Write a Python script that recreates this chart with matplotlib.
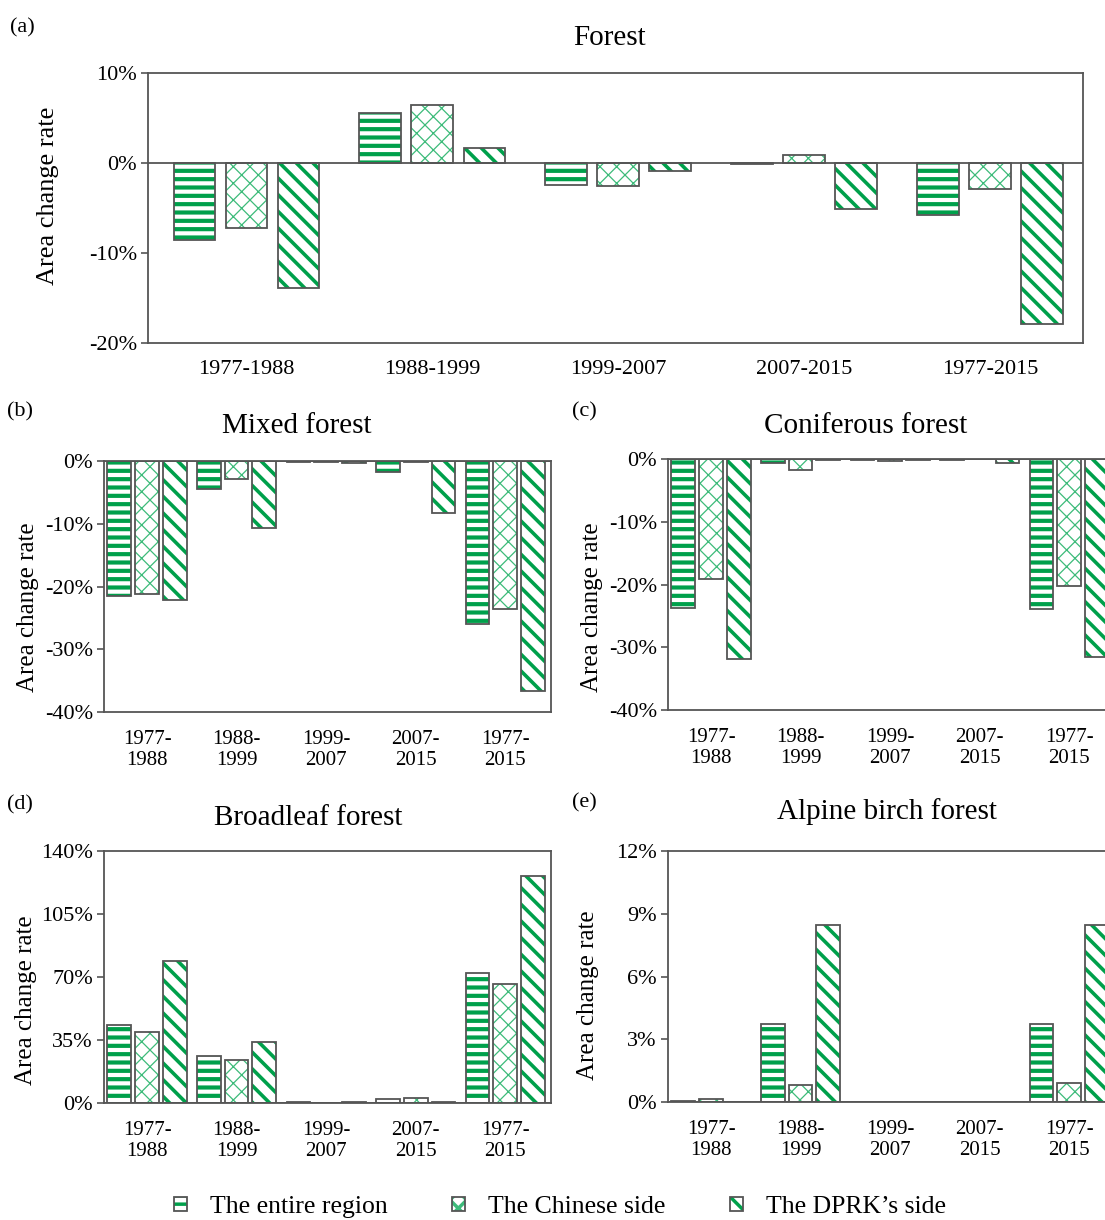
import numpy as np
import matplotlib
matplotlib.use('Agg')
import matplotlib.pyplot as plt
from matplotlib.patches import Patch
from matplotlib.legend_handler import HandlerTuple

W, H = 1105, 1220
plt.rcParams['font.family'] = ['Liberation Serif', 'DejaVu Serif']
plt.rcParams['hatch.linewidth'] = 2.5

periods = ['1977-1988', '1988-1999', '1999-2007', '2007-2015', '1977-2015']
periods_2line = [p.replace('-', '-\n') for p in periods]
series = ['The entire region', 'The Chinese side', 'The DPRK\u2019s side']

# area change rate, %
forest_entire = [-8.6, 5.6, -2.4, -0.15, -5.8]
forest_chinese = [-7.2, 6.4, -2.6, 0.9, -2.9]
forest_dprk = [-13.9, 1.7, -0.9, -5.1, -17.9]

mixed_entire = [-21.5, -4.5, -0.1, -1.8, -26.0]
mixed_chinese = [-21.2, -2.9, -0.1, -0.1, -23.6]
mixed_dprk = [-22.2, -10.7, -0.3, -8.3, -36.6]

conif_entire = [-23.7, -0.6, -0.1, -0.1, -23.9]
conif_chinese = [-19.2, -1.75, -0.3, 0.1, -20.3]
conif_dprk = [-31.8, -0.1, -0.1, -0.6, -31.6]

broad_entire = [43.1, 26.3, 0.5, 2.4, 72.2]
broad_chinese = [39.2, 23.7, 0.1, 2.6, 66.3]
broad_dprk = [78.8, 34.0, 0.5, 0.5, 126.0]

birch_entire = [0.05, 3.71, 0, 0, 3.71]
birch_chinese = [0.13, 0.81, 0, 0, 0.89]
birch_dprk = [0, 8.48, 0, 0, 8.48]

forest_ticks = [-20, -10, 0, 10]
mixed_ticks = [-40, -30, -20, -10, 0]
broad_ticks = [0, 35, 70, 105, 140]
birch_ticks = [0, 3, 6, 9, 12]

GREEN = '#00a04b'
LIGHT = '#3dbb7a'
EDGE = '#555555'
styles = [('--', GREEN, 3.0), ('xx', LIGHT, 0.9), ('\\\\', GREEN, 2.6)]

fig = plt.figure(figsize=(W / 100, H / 100), dpi=100)


def px_axes(left, top, right, bottom):
    return fig.add_axes([left / W, 1 - bottom / H, (right - left) / W, (bottom - top) / H])


def draw_panel(ax, values, width, step, yticks, xlabels, xfs, xlim, xpad):
    x = np.arange(len(periods))
    for k, vals in enumerate(values):
        hatch, color, hlw = styles[k]
        pos = x + (k - 1) * step
        with plt.rc_context({'hatch.linewidth': hlw}):
            bars = ax.bar(pos, vals, width, color='white', edgecolor=color,
                          hatch=hatch, linewidth=0)
        for b in bars:
            if hasattr(b, 'set_hatch_linewidth'):
                b.set_hatch_linewidth(hlw)
        ax.bar(pos, vals, width, fill=False, edgecolor=EDGE, linewidth=1.3)
    ax.axhline(0, color=EDGE, lw=1.3)
    ax.set_ylim(yticks[0], yticks[-1])
    ax.set_xlim(*xlim)
    ax.set_yticks(yticks)
    ax.set_yticklabels([f'{t}%' for t in yticks])
    ax.set_xticks(x)
    ax.set_xticklabels(xlabels, fontsize=xfs, linespacing=1.15)
    ax.tick_params(axis='y', direction='out', length=5, width=1.2, color=EDGE,
                   labelsize=16, pad=3)
    ax.tick_params(axis='x', length=0, pad=xpad)
    for s in ax.spines.values():
        s.set_color(EDGE)
        s.set_linewidth(1.3)


def ftext(x, y, s, **kw):
    fig.text(x / W, 1 - y / H, s, ha='center', va='center', **kw)


# (a) Forest
ax_a = px_axes(148, 73, 1083, 343)
draw_panel(ax_a, [forest_entire, forest_chinese, forest_dprk], 0.225, 0.28,
           forest_ticks, periods, 16, (-0.53, 4.5), 12)
ftext(610, 38, 'Forest', fontsize=21)
ftext(48, 196, 'Area change rate', fontsize=19, rotation=90)
ftext(22, 28, '(a)', fontsize=16)

# (b) Mixed forest
ax_b = px_axes(104, 461, 551, 712)
draw_panel(ax_b, [mixed_entire, mixed_chinese, mixed_dprk], 0.265, 0.31,
           mixed_ticks, periods_2line, 15, (-0.48, 4.51), 13)
ftext(297, 426, 'Mixed forest', fontsize=21)
ftext(28, 607, 'Area change rate', fontsize=18, rotation=90)
ftext(20, 412, '(b)', fontsize=16)

# (c) Coniferous forest
ax_c = px_axes(668, 459, 1115, 710)
draw_panel(ax_c, [conif_entire, conif_chinese, conif_dprk], 0.265, 0.31,
           mixed_ticks, periods_2line, 15, (-0.48, 4.51), 13)
ftext(866, 426, 'Coniferous forest', fontsize=21)
ftext(592, 607, 'Area change rate', fontsize=18, rotation=90)
ftext(584, 412, '(c)', fontsize=16)

# (d) Broadleaf forest
ax_d = px_axes(104, 851, 551, 1103)
draw_panel(ax_d, [broad_entire, broad_chinese, broad_dprk], 0.265, 0.31,
           broad_ticks, periods_2line, 15, (-0.48, 4.51), 13)
ftext(308, 818, 'Broadleaf forest', fontsize=21)
ftext(26, 1000, 'Area change rate', fontsize=18, rotation=90)
ftext(20, 805, '(d)', fontsize=16)

# (e) Alpine birch forest
ax_e = px_axes(668, 851, 1115, 1102)
draw_panel(ax_e, [birch_entire, birch_chinese, birch_dprk], 0.265, 0.31,
           birch_ticks, periods_2line, 15, (-0.48, 4.51), 13)
ftext(887, 812, 'Alpine birch forest', fontsize=21)
ftext(588, 995, 'Area change rate', fontsize=18, rotation=90)
ftext(584, 803, '(e)', fontsize=16)

# legend
handles = []
for hatch, color, hlw in styles:
    p1 = Patch(facecolor='white', edgecolor=color, hatch=hatch, linewidth=0)
    if hasattr(p1, 'set_hatch_linewidth'):
        p1.set_hatch_linewidth(min(hlw, 2.0))
    p2 = Patch(fill=False, edgecolor=EDGE, linewidth=1.3)
    handles.append((p1, p2))
fig.legend(handles, series, handler_map={tuple: HandlerTuple(ndivide=1, pad=0)},
           loc='center', bbox_to_anchor=(560 / W, 1 - 1207 / H), ncol=3,
           frameon=False, fontsize=18.5, handlelength=0.5, handleheight=0.5,
           handletextpad=0.9, columnspacing=2.5)

fig.savefig('out.png', dpi=100)
